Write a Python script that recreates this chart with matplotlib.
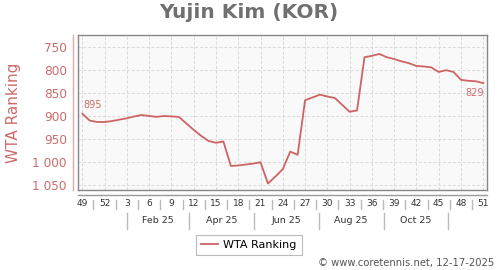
import matplotlib
matplotlib.use("Agg")
import matplotlib.pyplot as plt
from matplotlib.lines import Line2D
import matplotlib.transforms as mtransforms
import pandas as pd
import numpy as np

plt.rcParams['font.family'] = ['DejaVu Sans']

# ---- data ----
week_labels = ["49", "52", "3", "6", "9", "12", "15", "18", "21", "24", "27",
               "30", "33", "36", "39", "42", "45", "48", "51"]
ranking = [895, 910, 913, 913, 911, 908, 905, 901, 898, 900,
           902, 900, 901, 902, 916, 930, 943, 954, 958, 955,
           1008, 1007, 1005, 1003, 1000, 1046, 1031, 1015, 977, 984,
           866, 860, 854, 858, 861, 876, 891, 888, 773, 770,
           766, 773, 777, 782, 786, 792, 793, 795, 805, 801,
           805, 822, 824, 825, 829]
month_edges = ["2025-02-01", "2025-04-01", "2025-06-01", "2025-08-01",
               "2025-10-01", "2025-12-01"]
month_labels = ["Feb 25", "Apr 25", "Jun 25", "Aug 25", "Oct 25"]
y_ticks = [750, 800, 850, 900, 950, 1000, 1050]
y_tick_labels = ["750", "800", "850", "900", "950", "1 000", "1 050"]
series_name = "WTA Ranking"
title = "Yujin Kim (KOR)"
footer = "\u00a9 www.coretennis.net, 12-17-2025"

line_color = "#cd6464"
pink_text = "#cd6b6b"

fig = plt.figure(figsize=(5, 2.7), dpi=100)
fig.patch.set_facecolor("white")
ax = fig.add_axes([0.156, 0.2963, 0.818, 0.5741])
ax.set_facecolor("#f9f9f9")

x = np.arange(len(ranking))
ax.plot(x, ranking, color=line_color, lw=1.3, label=series_name, zorder=3)

ax.set_xlim(-0.58, 54.5)
ax.set_ylim(1060, 725)

# ticks
tick_pos = np.arange(0, len(ranking), 3)
ax.set_xticks(tick_pos)
ax.set_xticklabels(week_labels, fontsize=6.5, color="#333333")
ax.tick_params(axis="x", length=0, pad=6.3)
ax.set_yticks(y_ticks)
ax.set_yticklabels(y_tick_labels, fontsize=8.7, color=pink_text)
ax.tick_params(axis="y", length=0, pad=8)

ax.grid(True, color="#d8d8d8", ls=(0, (3, 2)), lw=0.7)
ax.set_axisbelow(True)
for s in ax.spines.values():
    s.set_color("#888888")
    s.set_linewidth(1.0)

ax.set_ylabel(series_name, fontsize=11, color=pink_text)
ax.yaxis.set_label_coords(-0.139, 0.5)

# extra axis lines
ax.add_line(Line2D([-0.0122, -0.0122], [0, 1], transform=ax.transAxes,
                   color="#e3a9a9", lw=1.0, clip_on=False))
ax.add_line(Line2D([0, 1], [-0.032, -0.032], transform=ax.transAxes,
                   color="#9a9a9a", lw=1.0, clip_on=False))

trans = mtransforms.blended_transform_factory(ax.transData, ax.transAxes)
# week label separators
for p in tick_pos[:-1] + 1.5:
    ax.add_line(Line2D([p, p], [-0.065, -0.125], transform=trans,
                       color="#bbbbbb", lw=1.0, clip_on=False))

# month separators and labels
ref = pd.Timestamp("2025-02-01") - pd.Timedelta(days=42)
edges = [(pd.Timestamp(d) - ref).days / 7.0 for d in month_edges]
for e in edges:
    ax.add_line(Line2D([e, e], [-0.148, -0.25], transform=trans,
                       color="#bbbbbb", lw=1.0, clip_on=False))
for i, lab in enumerate(month_labels):
    ax.text((edges[i] + edges[i + 1]) / 2, -0.195, lab, transform=trans,
            ha="center", va="center", fontsize=6.8, color="#333333")

# annotations
ax.annotate(str(ranking[0]), (x[0], ranking[0]), xytext=(0.5, 6.5),
            textcoords="offset points", ha="left", va="center",
            fontsize=7, color=pink_text)
ax.annotate(str(ranking[-1]), (x[-1], ranking[-1]), xytext=(0.7, -6.8),
            textcoords="offset points", ha="right", va="center",
            fontsize=7, color=pink_text)

fig.text(0.498, 1 - 13 / 270, title, ha="center", va="center",
         fontsize=14.5, fontweight="bold", color="#707070")

leg = fig.legend(loc="center", bbox_to_anchor=(0.498, 1 - 245 / 270),
                 fontsize=8.0, frameon=True, fancybox=False,
                 handlelength=1.5, handletextpad=0.5, borderpad=0.45)
leg.get_frame().set_edgecolor("#aaaaaa")
leg.get_frame().set_linewidth(0.8)

fig.text(0.988, 1 - 263 / 270, footer, ha="right", va="center",
         fontsize=7.2, color="#555555")

fig.savefig("out.png", dpi=100)
